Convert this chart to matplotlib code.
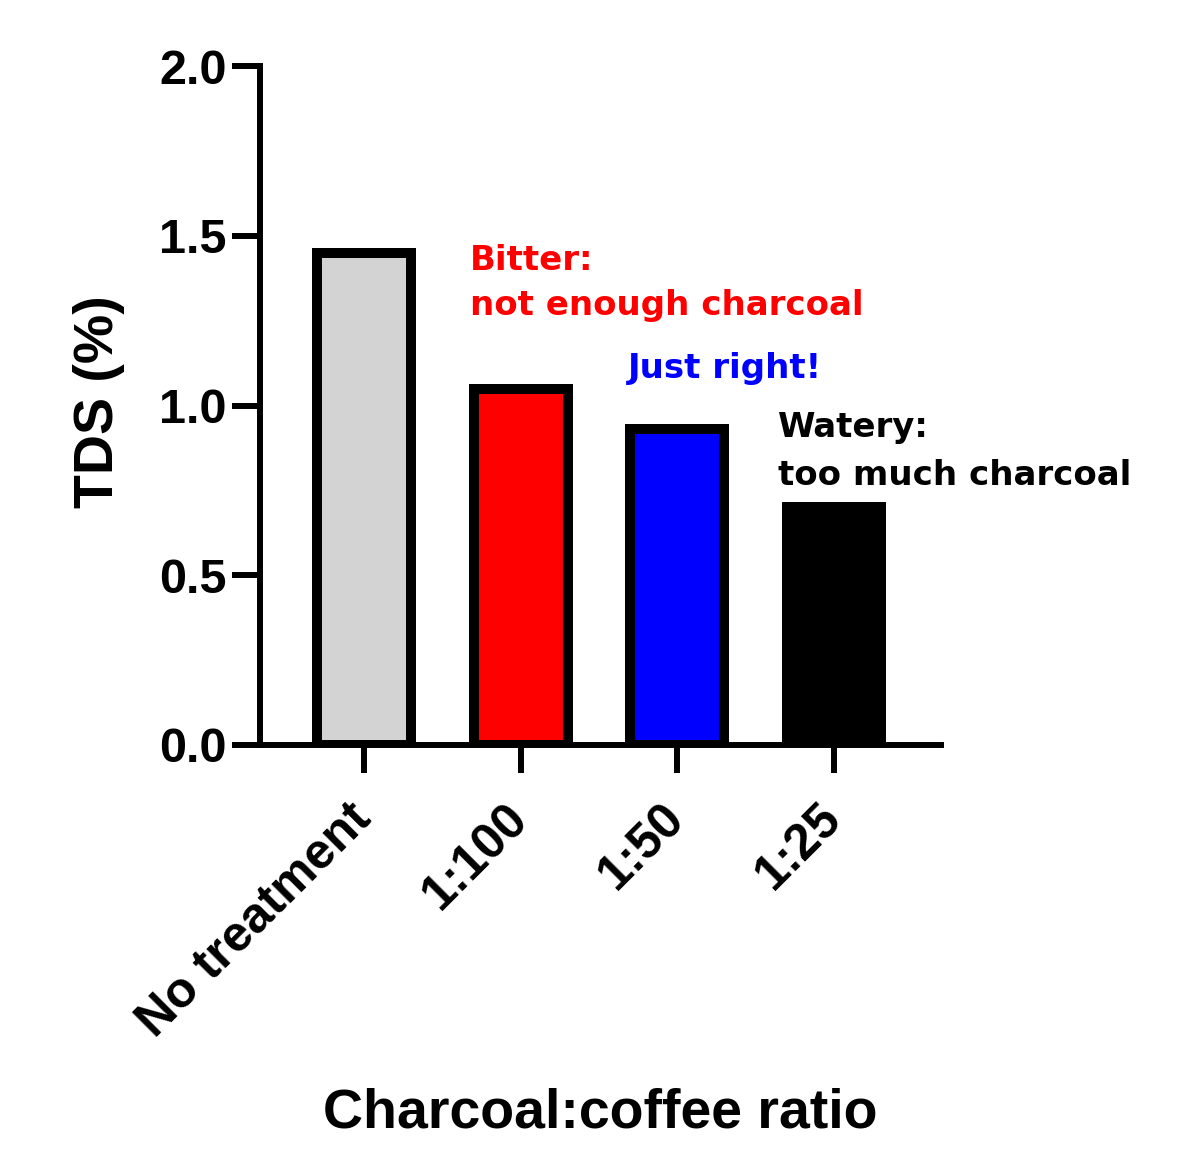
import matplotlib
matplotlib.use("Agg")
import matplotlib.pyplot as plt

categories = ["No treatment", "1:100", "1:50", "1:25"]
tds_values = [1.45, 1.05, 0.93, 0.70]
bar_colors = ["#d3d3d3", "#ff0000", "#0000ff", "#000000"]
y_ticks = [0.0, 0.5, 1.0, 1.5, 2.0]
y_tick_labels = ["0.0", "0.5", "1.0", "1.5", "2.0"]

annotations = [
    ("Bitter:", 0.676, 1.400, "#ff0000"),
    ("not enough charcoal", 0.676, 1.268, "#ff0000"),
    ("Just right!", 1.685, 1.080, "#0000ff"),
    ("Watery:", 2.642, 0.907, "#000000"),
    ("too much charcoal", 2.642, 0.766, "#000000"),
]

plt.rcParams['font.family'] = ['Liberation Sans', 'DejaVu Sans']
plt.rcParams['font.weight'] = 'bold'

W, H = 1200, 1159
fig = plt.figure(figsize=(W / 100, H / 100), dpi=100)
ax = fig.add_axes([260 / W, (H - 745) / H, (941 - 260) / W, (745 - 66) / H])

x = list(range(len(categories)))
ax.bar(x, tds_values, width=0.6, color=bar_colors, edgecolor="black",
       linewidth=7.2, zorder=2)

ax.set_xlim(-0.664, 3.682)
ax.set_ylim(0, 2.0)

for side in ["top", "right"]:
    ax.spines[side].set_visible(False)
for side in ["left", "bottom"]:
    ax.spines[side].set_linewidth(4.3)
    ax.spines[side].set_zorder(3)

ax.set_yticks(y_ticks)
ax.set_yticklabels(y_tick_labels, fontsize=35, fontweight='bold')
ax.set_xticks(x)
ax.set_xticklabels(categories, fontsize=36, fontweight='bold', rotation=45,
                   ha='right', va='center', rotation_mode='anchor')
ax.tick_params(axis='both', which='major', length=20, width=4.3, direction='out')
ax.tick_params(axis='y', pad=4)
ax.tick_params(axis='x', pad=28)

ax.set_ylabel("TDS (%)", fontsize=40, fontweight='bold')
ax.yaxis.set_label_coords(-0.198, 0.505)
ax.set_xlabel("Charcoal:coffee ratio", fontsize=40, fontweight='bold')
ax.xaxis.label.set_va('baseline')
ax.xaxis.set_label_coords(0.5, -0.5626)

for txt, xd, yd, col in annotations:
    ax.text(xd, yd, txt, color=col, fontsize=24.5, fontweight='bold',
            family='DejaVu Sans', ha='left', va='baseline', clip_on=False)

fig.savefig("out.png", dpi=100)
